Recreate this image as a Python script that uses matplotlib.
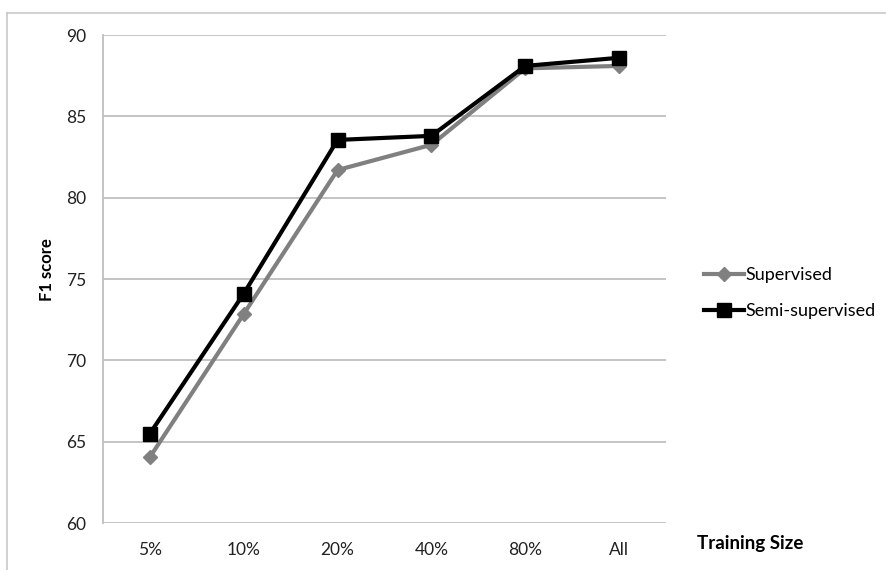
import matplotlib.pyplot as plt
from matplotlib.lines import Line2D

plt.rcParams['font.family'] = ['Lato', 'DejaVu Sans']

categories = ['5%', '10%', '20%', '40%', '80%', 'All']
supervised = [64.05, 72.85, 81.7, 83.25, 87.95, 88.1]
semi_supervised = [65.5, 74.1, 83.55, 83.8, 88.1, 88.6]
y_ticks = [60, 65, 70, 75, 80, 85, 90]

W, H = 886, 570
fig = plt.figure(figsize=(W / 100, H / 100), dpi=100)
ax = fig.add_axes([103 / W, 1 - 523 / H, (666 - 103) / W, (523 - 35) / H])

x = [i + 0.5 for i in range(len(categories))]
ax.plot(x, supervised, color='#808080', lw=3, marker='D', ms=7,
        label='Supervised', zorder=3)
ax.plot(x, semi_supervised, color='black', lw=3, marker='s', ms=10,
        label='Semi-supervised', zorder=4)

ax.set_xlim(0, 6)
ax.set_ylim(60, 90)
ax.set_yticks(y_ticks)
ax.set_xticks(x)
ax.set_xticklabels(categories)
ax.grid(axis='y', color='#bfbfbf', lw=1.3)
ax.set_axisbelow(True)
for s in ['top', 'right', 'bottom']:
    ax.spines[s].set_visible(False)
ax.spines['left'].set_color('#bfbfbf')
ax.spines['left'].set_linewidth(1.3)
ax.tick_params(length=0, labelsize=12.5, colors='#222222', pad=12)
ax.tick_params(axis='x', pad=14)

fig.text(47 / W, 1 - 270 / H, 'F1 score', rotation=90, ha='center',
         va='center', fontsize=12, fontweight='bold')
fig.text(697 / W, 1 - 543 / H, 'Training Size', ha='left', va='center',
         fontsize=13.5, fontweight='bold')

ax.legend(loc='center left', bbox_to_anchor=(688 / W, 1 - 293 / H),
          bbox_transform=fig.transFigure, frameon=False, fontsize=13,
          handlelength=2.2, handletextpad=0.1, labelspacing=1.1)

# outer chart frame (left and top edges)
fig.add_artist(Line2D([7 / W, 7 / W], [0, 1 - 13 / H], color='#c8c8c8', lw=1.2))
fig.add_artist(Line2D([7 / W, 1], [1 - 13 / H, 1 - 13 / H], color='#c8c8c8', lw=1.2))

fig.savefig('out.png', dpi=100)
